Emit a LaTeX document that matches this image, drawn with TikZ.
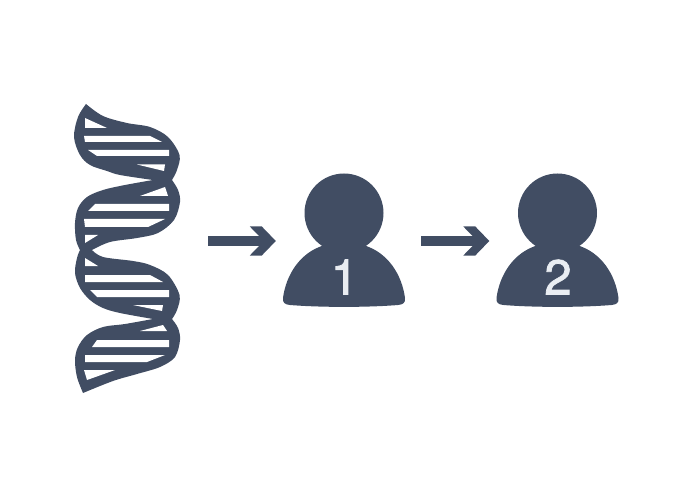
\documentclass[tikz,border=0pt]{standalone}
\usepackage{fontspec}
\setmainfont{TeX Gyre Heros}
\newfontfamily\numfont[FakeBold=1.6]{TeX Gyre Heros}
\usetikzlibrary{arrows.meta}
\definecolor{slate}{HTML}{414D63}
\definecolor{numeral}{HTML}{E9EDF2}
\pgfdeclarearrow{
  name=Chevron,
  setup code={
    \pgfarrowssettipend{0pt}
    \pgfarrowssetlineend{-8pt}
    \pgfarrowssetvisualbackend{-26pt}
    \pgfarrowssetbackend{-26pt}
    \pgfarrowshullpoint{0pt}{0pt}
    \pgfarrowshullpoint{-26pt}{15pt}
    \pgfarrowshullpoint{-26pt}{-15pt}
  },
  drawing code={
    \pgfpathmoveto{\pgfpoint{0pt}{0pt}}
    \pgfpathlineto{\pgfpoint{-14pt}{14.5pt}}
    \pgfpathlineto{\pgfpoint{-26pt}{14.5pt}}
    \pgfpathlineto{\pgfpoint{-16.3pt}{4.5pt}}
    \pgfpathlineto{\pgfpoint{-16.3pt}{-4.5pt}}
    \pgfpathlineto{\pgfpoint{-26pt}{-14.5pt}}
    \pgfpathlineto{\pgfpoint{-14pt}{-14.5pt}}
    \pgfpathclose
    \pgfusepathqfill
  }
}
\tikzset{
  ink/.style={fill=slate,draw=none},
  gap/.style={fill=white,draw=none},
  flow/.style={draw=slate,line width=9pt,-{Chevron}},
  head/.style={circle,fill=slate,inner sep=0pt,minimum size=79pt},
  numlabel/.style={text=numeral,font=\numfont\fontsize{49}{49}\selectfont,inner sep=0pt},
  zone/.style={inner sep=0pt,minimum height=60pt},
  edge/.style={smooth,tension=0.55}
}
\begin{document}
\begin{tikzpicture}[x=1pt,y=-1pt]
\useasboundingbox (0,0) rectangle (678,492);
% dna silhouette
\node[zone,minimum width=102pt] (dna) at (127,241) {};
\fill[ink] plot[edge] coordinates {(86,104)(103,116)(127,123)(150,127)(168,137)(179.5,155)(177,170)(172,180)}
  -- plot[edge] coordinates {(172,180)(178,190)(180,202)(174,220)(158,233)(137,238)(110,242)(92,250)}
  -- plot[edge] coordinates {(92,250)(103,257)(133,261)(150,265)(168,275)(179.5,295)(177,310)(172,319)}
  -- plot[edge] coordinates {(172,319)(178,328)(180,340)(175,357)(160,367)(137,374)(113,381)(83,393)}
  -- plot[edge] coordinates {(83,393)(77,377)(75,360)(78,347)(87,335)(103,327)(125,324)(153,319)}
  -- plot[edge] coordinates {(153,319)(120,313)(103,308)(90,300)(80,288)(75,273)(77,258)(80,250)}
  -- plot[edge] coordinates {(80,250)(76,240)(75,223)(78,208)(87,197)(103,190)(125,185)(153,180)}
  -- plot[edge] coordinates {(153,180)(120,175)(107,171)(90,165)(80,155)(74,137)(78,117)(86,104)} -- cycle;
% white openings between the rungs
\fill[gap] (85,118) -- (107,128) -- (85,128) -- cycle;
\fill[gap] (84,136) -- (150,136) -- (162,142) -- (85,142) -- cycle;
\fill[gap] (88,150) -- (169,150) -- (169,156) -- (97,156) -- cycle;
\fill[gap] (137,164.5) -- (165,164.5) -- (164,171) -- cycle;
\fill[gap] (140,196) -- (165,187) -- (168,196) -- cycle;
\fill[gap] (95,204) -- (169,204) -- (169,211) -- (88,211) -- cycle;
\fill[gap] (84,219) -- (165,219) -- (148,227) -- (85,227) -- cycle;
\fill[gap] (85,235) -- (98,235) -- (85,243) -- cycle;
\fill[gap] (85,258) -- (98,266) -- (85,266) -- cycle;
\fill[gap] (85,275) -- (150,275) -- (163,282) -- (85,282) -- cycle;
\fill[gap] (90,290) -- (169,290) -- (169,297) -- (97,297) -- cycle;
\fill[gap] (133,305) -- (163,305) -- (162,311) -- cycle;
\fill[gap] (140,331) -- (163,325) -- (167,331) -- cycle;
\fill[gap] (97,340) -- (169,340) -- (169,347) -- (92,347) -- cycle;
\fill[gap] (85,355) -- (165,355) -- (147,362) -- (85,362) -- cycle;
\fill[gap] (84,370) -- (115,370) -- (87,380) -- cycle;
% people
\node[head] (h1) at (344,213) {};
\fill[ink] (325,245) .. controls (300,252) and (286,275) .. (283,298) .. controls (282.5,303) and (285,304.5) .. (290,305) .. controls (320,307.5) and (368,307.5) .. (398,305) .. controls (403,304.5) and (405.5,303) .. (405,298) .. controls (402,275) and (388,252) .. (363,245) -- cycle;
\node[numlabel] (n1) at (344.5,277) {1};
\node[head] (h2) at (557.5,213) {};
\fill[ink] (538.5,245) .. controls (513.5,252) and (499.5,275) .. (496.5,298) .. controls (496,303) and (498.5,304.5) .. (503.5,305) .. controls (533.5,307.5) and (581.5,307.5) .. (611.5,305) .. controls (616.5,304.5) and (619,303) .. (618.5,298) .. controls (615.5,275) and (601.5,252) .. (576.5,245) -- cycle;
\node[numlabel] (n2) at (558,277) {2};
% connectors
\node[zone,minimum width=136pt] (p1) at (344,241) {};
\node[zone,minimum width=136pt] (p2) at (557.5,241) {};
\draw[flow,shorten <=30pt] (dna.east) -- (p1.west);
\draw[flow,shorten <=9pt] (p1.east) -- (p2.west);
\end{tikzpicture}
\end{document}
